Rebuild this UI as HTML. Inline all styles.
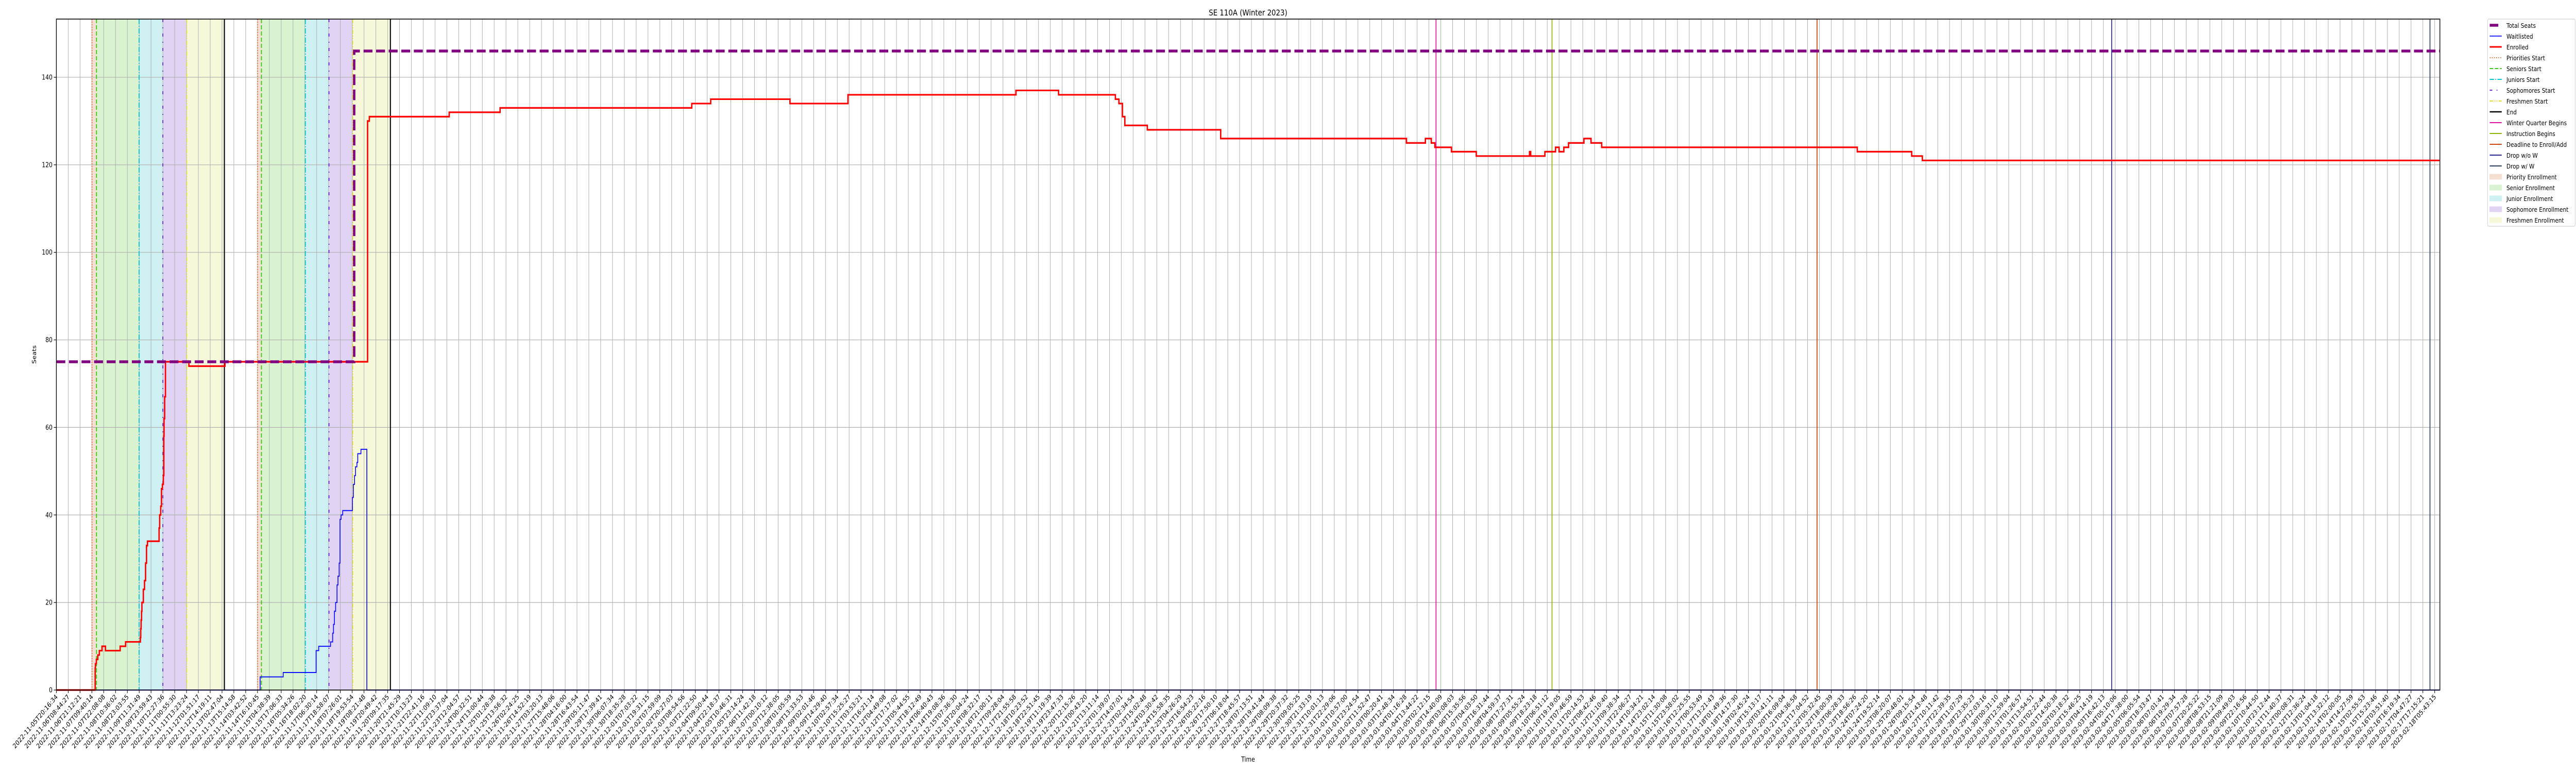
<!DOCTYPE html>
<html><head><meta charset="utf-8"><title>SE 110A (Winter 2023)</title>
<style>
html,body{margin:0;padding:0;background:#fff;width:100vw;height:100vh;overflow:hidden;}
svg{display:block;position:absolute;left:0;top:0;width:100vw;height:100vh;overflow:hidden;font-family:"DejaVu Sans","Liberation Sans",sans-serif;}
</style></head>
<body>
<svg id="chart" viewBox="0 0 6000 1500" preserveAspectRatio="none" overflow="hidden" xmlns="http://www.w3.org/2000/svg">
<rect x="0" y="0" width="6000" height="1500" fill="#fff"/>
<text x="2907" y="30" font-size="16" text-anchor="middle" fill="#000">SE 110A (Winter 2023)</text>
<text x="2907" y="1478" font-size="13" text-anchor="middle" fill="#000">Time</text>
<text x="0" y="0" font-size="13" text-anchor="middle" fill="#000" transform="translate(84,688) rotate(-90)">Seats</text>
<g id="spans"></g>
<g id="grid"></g>
<g id="events"></g>
<g id="series"></g>
<g id="axes"></g>
<g id="legend"></g>
</svg>
<script>
// ---- data (x in tick-index units, y in seats) ----
const tickStart = "2022-11-05T20:16:34";
const tickEnd = "2023-02-18T05:43:15";
const tickCount = 202;
const yTicks = [0,20,40,60,80,100,120,140];

const totalSeatsX = [0, 25.17, 25.17, 201.44];
const totalSeatsY = [75, 75, 146, 146];

const enrolledX = [0,3.28,3.30,3.38,3.5,3.52,3.63,3.86,4.15,5.39,5.85,7.1,7.13,7.16,7.2,7.23,7.35,7.45,7.54,7.62,7.7,7.96,8.68,8.73,8.82,8.88,8.96,9.04,9.08,9.09,9.1,9.15,9.22,11.2,14.25,26.3,26.45,33.2,37.5,53.7,55.3,62.0,66.9,81.1,84.7,89.5,89.8,90.1,90.3,92.2,98.4,114.1,115.7,116.2,116.5,117.9,120.0,124.5,124.6,125.8,126.7,127.0,127.4,127.8,129.1,129.7,130.6,152.2,156.8,157.7,201.44];
const enrolledY = [0,5,6,7,8,8,9,10,9,10,11,12,14,16,18,20,23,25,29,33,34,34,37,40,42,46,47,49,58,58,62,67,75,74,75,130,131,132,133,134,135,134,136,137,136,135,134,131,129,128,126,125,126,125,124,123,122,123,122,123,124,123,124,125,126,125,124,123,122,121,121];

const waitX = [0,17.22,19.17,21.95,22.17,23.17,23.35,23.42,23.5,23.6,23.72,23.8,23.9,23.97,24.06,24.2,24.32,25.02,25.1,25.2,25.28,25.4,25.47,25.53,25.74,26.24,201.44];
const waitY = [0,3,4,9,10,11,13,15,18,20,24,26,29,39,40,41,41,44,47,49,51,52,54,54,55,0,0];

const spanNames = ["priority","senior","junior","sophomore","freshmen"];
const spanStart1 = [3.01,3.39,6.99,9.0,11.01];
const spanEnd1 = [3.39,6.99,9.0,11.01,14.2];
const spanStart2 = [17.0,17.33,21.04,23.04,25.04];
const spanEnd2 = [17.33,21.04,23.04,25.04,28.23];
const eventNames = ["winter-quarter-begins","instruction-begins","deadline-to-enroll","drop-without-w","drop-with-w"];
const eventX = [116.6,126.4,148.8,173.7,200.6];

// ---- scales ----
const L=131.3, R=5683, T=37, B=1339, XMAX=201.44, YMAX=153.3;
const xs = i => L + i*(R-L)/XMAX;
const ys = v => B - v*(B-T)/YMAX;
const NS="http://www.w3.org/2000/svg";
function mk(tag, attrs, parent){const e=document.createElementNS(NS,tag);for(const k in attrs)e.setAttribute(k,attrs[k]);parent.appendChild(e);return e;}

const spanFill=["#f5dfd3","#d9f3d1","#cff0f2","#e0d3f4","#f7f8da"];
const startColor=["#f0703a","#33cc11","#00c5d0","#6a2bd9","#e0df30"];
const startDash=["2,3","8,4","10,3,2,3","6,10,2,10","8,3,2,3,2,3"];
const eventColor=["#e0109c","#8db600","#d2400f","#27278a","#2d3f5e"];

const gSp=document.getElementById('spans');
[[spanStart1,spanEnd1],[spanStart2,spanEnd2]].forEach((pair,c)=>{
  pair[0].forEach((s,k)=>{
    const r=mk('rect',{x:xs(s),y:T,width:xs(pair[1][k])-xs(s),height:B-T,fill:spanFill[k]},gSp);
    
    
  });
});

// grid
const gG=document.getElementById('grid');
for(let i=0;i<tickCount;i++){
  const l=mk('line',{x1:xs(i),x2:xs(i),y1:T,y2:B,stroke:"#b0b0b0","stroke-width":1.2},gG);
  
  
}
yTicks.forEach(v=>{
  const l=mk('line',{x1:L,x2:R,y1:ys(v),y2:ys(v),stroke:"#b0b0b0","stroke-width":1.2},gG);
  
  
});

// vertical event/start lines
const gE=document.getElementById('events');
[spanStart1,spanStart2].forEach((arr,c)=>{
  arr.forEach((s,k)=>{
    const l=mk('line',{x1:xs(s),x2:xs(s),y1:T,y2:B,stroke:startColor[k],"stroke-width":2.2,"stroke-dasharray":startDash[k]},gE);
    
    
  });
});
[spanEnd1[4],spanEnd2[4]].forEach((e,c)=>{
  const l=mk('line',{x1:xs(e),x2:xs(e),y1:T,y2:B,stroke:"#000","stroke-width":2.5},gE);
  
  
});
eventX.forEach((e,k)=>{
  const l=mk('line',{x1:xs(e),x2:xs(e),y1:T,y2:B,stroke:eventColor[k],"stroke-width":2},gE);
  
  
});

// series
function stepPath(X,Y){let d='';for(let i=0;i<X.length;i++){const x=xs(X[i]),y=ys(Y[i]);if(i===0)d+='M'+x+','+y;else{d+='L'+x+','+ys(Y[i-1])+'L'+x+','+y;}}return d;}
const gS=document.getElementById('series');
const pw=mk('path',{d:stepPath(waitX,waitY),fill:"none",stroke:"#1010ff","stroke-width":2},gS);


const pe=mk('path',{d:stepPath(enrolledX,enrolledY),fill:"none",stroke:"#ff0000","stroke-width":3.2,"stroke-linejoin":"miter"},gS);


const pt=mk('path',{d:stepPath(totalSeatsX,totalSeatsY),fill:"none",stroke:"#800080","stroke-width":5.5,"stroke-dasharray":"20.7,8.6"},gS);



// axes
const gA=document.getElementById('axes');
const fr=mk('rect',{x:L,y:T,width:R-L,height:B-T,fill:"none",stroke:"#000","stroke-width":1.6},gA);


yTicks.forEach(v=>{
  const t=mk('line',{x1:L-6,x2:L,y1:ys(v),y2:ys(v),stroke:"#000","stroke-width":1.2},gA);
  
  
  const tx=mk('text',{x:L-9,y:ys(v)+4.5,"font-size":13,"text-anchor":"end",fill:"#000"},gA);
  tx.textContent=String(v);
  
  
});
const t0=Date.parse(tickStart+"Z"), t1=Date.parse(tickEnd+"Z");
const tickLabels=[];
for(let i=0;i<tickCount;i++){tickLabels.push(new Date(t0+(t1-t0)*i/(tickCount-1)).toISOString().slice(0,19));}
tickLabels.forEach((lab,i)=>{
  const x=xs(i);
  const t=mk('line',{x1:x,x2:x,y1:B,y2:B+6,stroke:"#000","stroke-width":1.2},gA);
  
  
  const tx=mk('text',{x:0,y:0,"font-size":13,"text-anchor":"end",fill:"#000",transform:`translate(${x+4},${B+14}) rotate(-45)`},gA);
  tx.textContent=lab;
  
  
});

// legend
const gL=document.getElementById('legend');
const lb=mk('rect',{x:5794,y:37,width:204,height:402,rx:3,fill:"#fff",stroke:"#d0d0d0","stroke-width":1.2},gL);


const legendLabels=["Total Seats","Waitlisted","Enrolled","Priorities Start","Seniors Start","Juniors Start","Sophomores Start","Freshmen Start","End","Winter Quarter Begins","Instruction Begins","Deadline to Enroll/Add","Drop w/o W","Drop w/ W","Priority Enrollment","Senior Enrollment","Junior Enrollment","Sophomore Enrollment","Freshmen Enrollment"];
const legendStyle=[
 ["line","#800080",5.5,"20,8"],["line","#1010ff",1.8,""],["line","#ff0000",3,""],
 ["line",startColor[0],2,startDash[0]],["line",startColor[1],2,startDash[1]],["line",startColor[2],2,startDash[2]],["line",startColor[3],2,startDash[3]],["line",startColor[4],2,startDash[4]],
 ["line","#000",2.5,""],["line",eventColor[0],2,""],["line",eventColor[1],2,""],["line",eventColor[2],2,""],["line",eventColor[3],2,""],["line",eventColor[4],2,""],
 ["rect",spanFill[0]],["rect",spanFill[1]],["rect",spanFill[2]],["rect",spanFill[3]],["rect",spanFill[4]]];
legendLabels.forEach((lab,k)=>{
  const cy=49+k*21;
  const st=legendStyle[k];
  const g=mk('g',{},gL);
  
  
  if(st[0]==="line"){
    const a={x1:5799,x2:5827,y1:cy,y2:cy,stroke:st[1],"stroke-width":st[2]};
    if(st[3])a["stroke-dasharray"]=st[3];
    if(k===0){a.x2=5819;}
    mk('line',a,g);
  } else {
    mk('rect',{x:5799,y:cy-5,width:28,height:10,fill:st[1],stroke:st[1]},g);
  }
  const tx=mk('text',{x:5838,y:cy+5,"font-size":12.6,fill:"#000"},g);
  tx.textContent=lab;
});
</script>
</body></html>
